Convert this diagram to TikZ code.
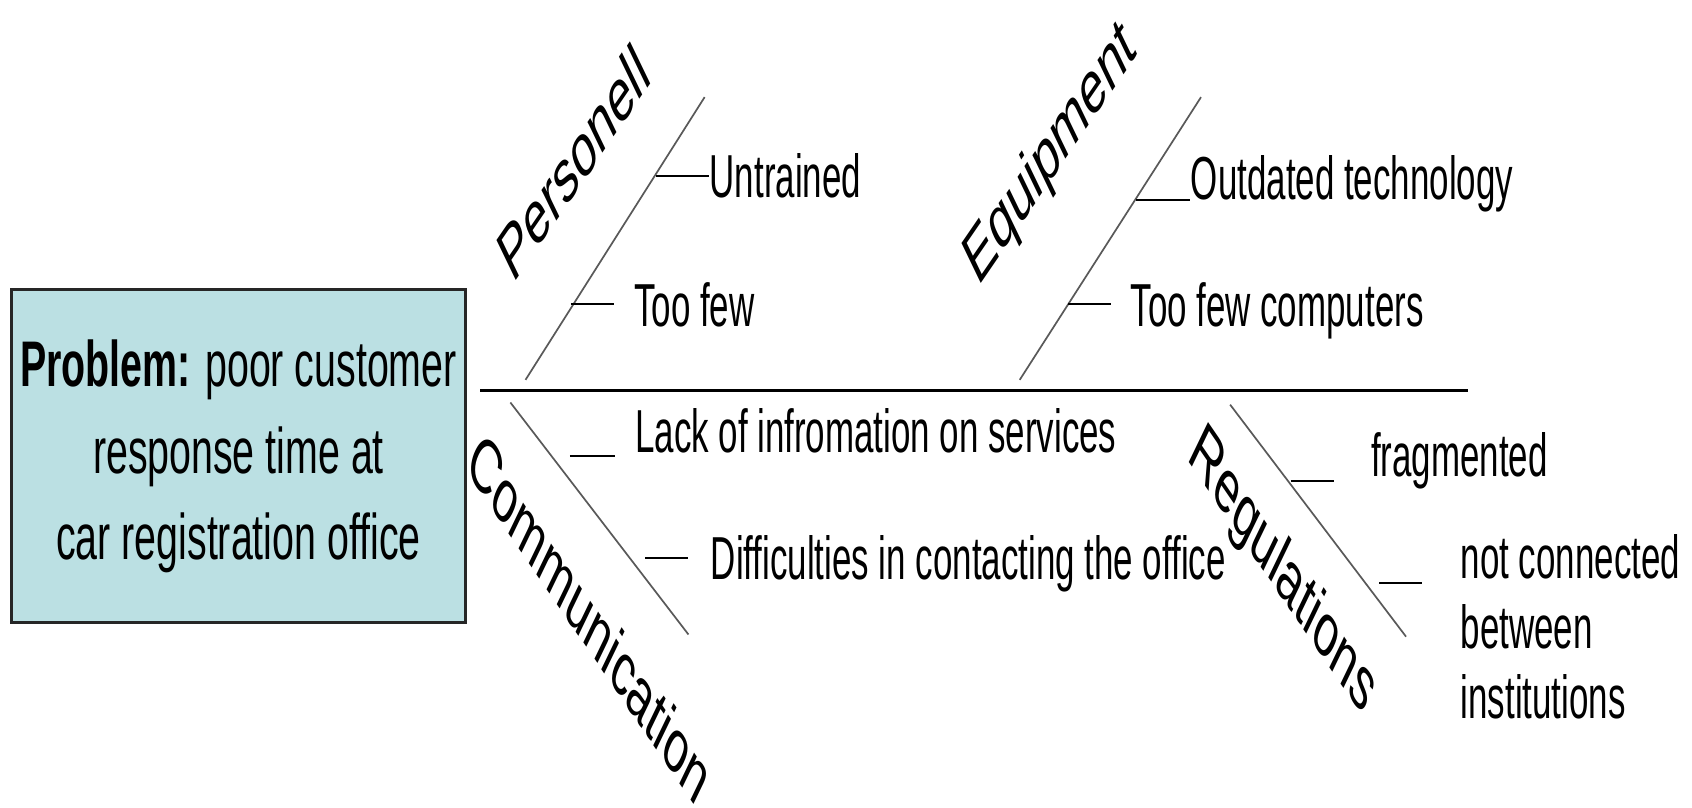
\documentclass[tikz,border=0pt]{standalone}
\usepackage{fontspec}
\setmainfont{Liberation Sans}
\usepackage{graphicx}
\usepackage{tikz}
\definecolor{boxteal}{HTML}{BBE0E3}
\newcommand{\narrowtext}[1]{\scalebox{0.575}[1]{#1}}
\newcommand{\catlabel}[2]{\scalebox{0.575}[1]{\rotatebox{#1}{\fontsize{20}{20}\selectfont #2}}}

\begin{document}
\begin{tikzpicture}[x=0.01cm,y=-0.01cm,
  spine/.style={draw=black,line width=0.7pt},
  bone/.style={draw=black!65,line width=0.45pt},
  tick/.style={draw=black,line width=0.55pt},
  cause/.style={inner sep=0pt,anchor=base west,font=\fontsize{16}{18.4}\selectfont},
  catname/.style={inner sep=0pt},
  probbox/.style={rectangle,draw=black!85,line width=0.8pt,fill=boxteal,
    minimum width=4.2cm,minimum height=3.09cm,inner sep=0pt,
    font=\fontsize{17}{22.8}\selectfont}]
  \useasboundingbox (0,0) rectangle (1568,748);
  \node[probbox] (prob) at (221,422.5) {\scalebox{0.61}[1]{\begin{tabular}{@{}c@{}}
    \textbf{Problem:} poor customer\\ response time at\\ car registration office\end{tabular}}};
  \coordinate (s0) at (445,362);
  \coordinate (s1) at (1360,362);
  \draw[spine] (s0) -- (s1);
  \coordinate (pers0) at (487,352);
  \coordinate (pers1) at (653,90);
  \coordinate (equi0) at (945,352);
  \coordinate (equi1) at (1113,90);
  \coordinate (comm0) at (473,373);
  \coordinate (comm1) at (638,588);
  \coordinate (regu0) at (1140,375);
  \coordinate (regu1) at (1303,590);
  \draw[bone] (pers0) -- (pers1);
  \draw[bone] (equi0) -- (equi1);
  \draw[bone] (comm0) -- (comm1);
  \draw[bone] (regu0) -- (regu1);
  \node[catname] (pers) at (531,150) {\catlabel{40}{Personell}};
  \node[catname] (equi) at (974,144) {\catlabel{40}{Equipment}};
  \node[catname] (comm) at (547,572) {\catlabel{-40}{Communication}};
  \node[catname] (regu) at (1188,530) {\catlabel{-40}{Regulations}};
  \node[cause] (untr) at (657,183) {\narrowtext{Untrained}};
  \node[cause] (few) at (587,303) {\narrowtext{Too few}};
  \node[cause] (outd) at (1103,185) {\narrowtext{Outdated technology}};
  \node[cause] (comp) at (1047,303) {\narrowtext{Too few computers}};
  \node[cause] (lack) at (588,419) {\narrowtext{Lack of infromation on services}};
  \node[cause] (diff) at (658,537) {\narrowtext{Difficulties in contacting the office}};
  \node[cause] (frag) at (1270,442) {\narrowtext{fragmented}};
  \node[cause] (conn) at (1353,536) {\narrowtext{\begin{tabular}[t]{@{}l@{}}not connected\\ between\\ institutions\end{tabular}}};
  \coordinate (u0) at (608,163);
  \coordinate (f0) at (529,282);
  \coordinate (o0) at (1053,185);
  \coordinate (c0) at (990,282);
  \coordinate (l0) at (528,423);
  \coordinate (l1) at (570,423);
  \coordinate (d0) at (598,517);
  \coordinate (d1) at (638,517);
  \coordinate (g0) at (1196,446);
  \coordinate (g1) at (1236,446);
  \coordinate (n0) at (1278,540);
  \coordinate (n1) at (1318,540);
  \draw[tick] (u0) -- (untr.west |- u0);
  \draw[tick] (f0) -- ++(40,0);
  \draw[tick] (o0) -- (outd.west |- o0);
  \draw[tick] (c0) -- ++(40,0);
  \draw[tick] (l0) -- (l1);
  \draw[tick] (d0) -- (d1);
  \draw[tick] (g0) -- (g1);
  \draw[tick] (n0) -- (n1);
\end{tikzpicture}
\end{document}
